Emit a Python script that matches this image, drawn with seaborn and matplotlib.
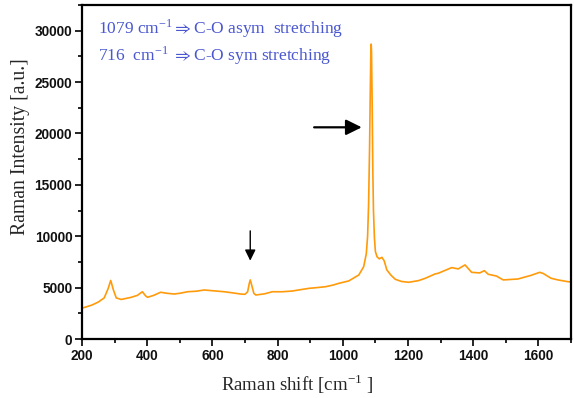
import matplotlib
matplotlib.use("Agg")
import matplotlib.pyplot as plt
import seaborn as sns
import pandas as pd
from matplotlib.ticker import MultipleLocator

# Data
raman_shift = [200, 230, 250, 268, 280, 288, 296, 305, 320, 350, 370, 385, 395, 401,
               420, 441, 460, 483, 500, 524, 550, 575, 600, 636, 660, 686, 700, 708,
               713, 716, 720, 727, 733, 760, 784, 815, 845, 870, 896, 920, 947, 970,
               988, 1018, 1049, 1064, 1072, 1076, 1079, 1082, 1084, 1086, 1087, 1088,
               1090, 1092, 1094, 1097, 1100, 1105, 1112, 1120, 1127, 1135, 1148, 1161,
               1180, 1202, 1232, 1253, 1283, 1293, 1334, 1354, 1375, 1395, 1420, 1434,
               1446, 1471, 1492, 1537, 1578, 1604, 1614, 1639, 1660, 1690, 1700]
intensity = [3000, 3300, 3600, 4000, 4900, 5700, 4800, 4000, 3850, 4050, 4250, 4600, 4200, 4060,
             4250, 4550, 4450, 4380, 4450, 4600, 4650, 4770, 4700, 4600, 4500, 4380, 4350, 4600,
             5400, 5750, 5300, 4450, 4280, 4400, 4600, 4600, 4670, 4800, 4930, 5000, 5090, 5250,
             5420, 5650, 6230, 7040, 8300, 10000, 13000, 18500, 23500, 28000, 28700, 28000,
             23000, 16500, 12500, 9800, 8500, 8000, 7800, 7950, 7600, 6720, 6200, 5810,
             5600, 5520, 5680, 5910, 6330, 6400, 6950, 6820, 7210, 6490, 6430, 6650,
             6300, 6130, 5750, 5840, 6200, 6490, 6390, 5910, 5750, 5580, 5550]

x_ticks = [200, 400, 600, 800, 1000, 1200, 1400, 1600]
y_ticks = [0, 5000, 10000, 15000, 20000, 25000, 30000]
annotation_lines = ["1079 cm$^{\\mathregular{-1}}$$\\Rightarrow$C-O asym  stretching",
                    "716  cm$^{\\mathregular{-1}}$ $\\Rightarrow$C-O sym stretching"]

df = pd.DataFrame({"shift": raman_shift, "intensity": intensity})

sns.set_style("ticks")
plt.rcParams["mathtext.fontset"] = "stix"

fig = plt.figure(figsize=(5.74, 3.98), dpi=100)
ax = fig.add_axes([0.1429, 0.1482, 0.9948 - 0.1429, 0.9874 - 0.1482])

sns.lineplot(data=df, x="shift", y="intensity", ax=ax, color="#FF9A0A", linewidth=1.2)

ax.set_xlim(200, 1700)
ax.set_ylim(0, 32500)
ax.set_xticks(x_ticks)
ax.set_yticks(y_ticks)
ax.xaxis.set_minor_locator(MultipleLocator(100))
ax.yaxis.set_minor_locator(MultipleLocator(2500))
ax.tick_params(which="major", direction="out", length=5, width=1.2, color="black",
               labelsize=9.8, pad=2, labelcolor="#111111")
ax.tick_params(which="minor", direction="out", length=3, width=1.2, color="black")
for lab in ax.get_xticklabels() + ax.get_yticklabels():
    lab.set_fontfamily("Liberation Sans")
    lab.set_fontweight("bold")
for sp in ax.spines.values():
    sp.set_visible(True)
    sp.set_linewidth(1.6)
    sp.set_color("black")

ax.set_xlabel("Raman shift [cm$^{\\mathregular{-1}}$ ]", fontfamily="Liberation Serif",
              fontsize=13.6, labelpad=7, x=0.44)
ax.set_ylabel("Raman Intensity [a.u.]", fontfamily="Liberation Serif", fontsize=14.2,
              labelpad=3, y=0.575)

ax.text(0.032, 0.915, annotation_lines[0], transform=ax.transAxes, color="#4a57d0",
        fontfamily="Liberation Serif", fontsize=12.5, va="baseline")
ax.text(0.032, 0.833, annotation_lines[1], transform=ax.transAxes, color="#4a57d0",
        fontfamily="Liberation Serif", fontsize=12.5, va="baseline")

ax.annotate("", xy=(1058, 20600), xytext=(912, 20600),
            arrowprops=dict(arrowstyle="-|>,head_length=0.95,head_width=0.47", color="black",
                            lw=1.6, shrinkA=0, shrinkB=0))
ax.annotate("", xy=(716, 7620), xytext=(716, 10520),
            arrowprops=dict(arrowstyle="-|>,head_length=0.65,head_width=0.32", color="black",
                            lw=1.0, shrinkA=0, shrinkB=0))

fig.savefig("out.png", dpi=100)
